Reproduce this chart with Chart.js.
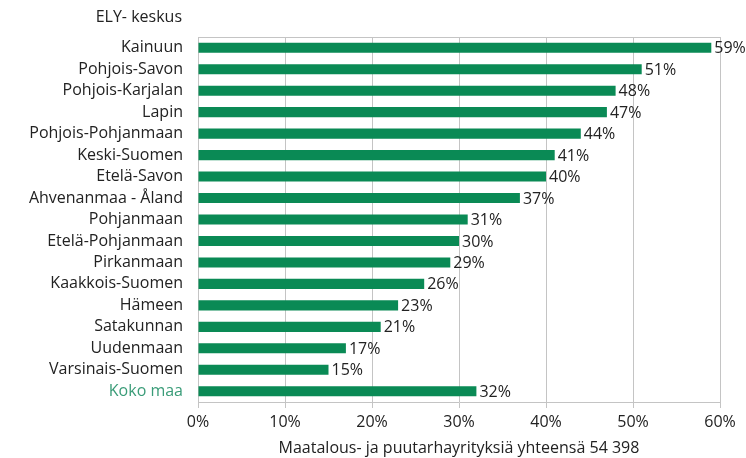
<!DOCTYPE html>
<html><head><meta charset="utf-8">
<script src="https://cdn.jsdelivr.net/npm/chart.js@4"></script>
<style>html,body{margin:0;padding:0;background:#fff}</style>
</head><body>
<canvas id="c" width="746" height="458" style="display:block;width:746px;height:458px"></canvas>
<script>
const categories = ['Kainuun','Pohjois-Savon','Pohjois-Karjalan','Lapin','Pohjois-Pohjanmaan','Keski-Suomen','Etelä-Savon','Ahvenanmaa - Åland','Pohjanmaan','Etelä-Pohjanmaan','Pirkanmaan','Kaakkois-Suomen','Hämeen','Satakunnan','Uudenmaan','Varsinais-Suomen','Koko maa'];
const values = [59,51,48,47,44,41,40,37,31,30,29,26,23,21,17,15,32];
const xTickValues = [0,10,20,30,40,50,60];
const axisTitle = 'Maatalous- ja puutarhayrityksiä yhteensä 54 398';
const headerTitle = 'ELY- keskus';

const FONT = '"Open Sans", "Noto Sans", sans-serif';
const FS = 16;
const TXT = '#222222';
const BAR = '#0a8a55';
const TOTAL_TXT = '#3a9c78';

const extras = {
  id: 'extras',
  beforeDatasetsDraw(chart) {
    const {ctx, chartArea} = chart;
    ctx.save();
    ctx.strokeStyle = '#c4c4c4';
    ctx.lineWidth = 1;
    ctx.beginPath();
    ctx.moveTo(chartArea.left, chartArea.top + 0.5);
    ctx.lineTo(chartArea.right, chartArea.top + 0.5);
    ctx.stroke();
    ctx.restore();
  },
  afterDatasetsDraw(chart) {
    const {ctx} = chart;
    const meta = chart.getDatasetMeta(0);
    ctx.save();
    ctx.font = FS + 'px ' + FONT;
    ctx.fillStyle = TXT;
    ctx.textAlign = 'left';
    ctx.textBaseline = 'middle';
    meta.data.forEach((bar, i) => {
      ctx.fillText(values[i] + '%', bar.x + 3, bar.y + 1);
    });
    ctx.textAlign = 'right';
    ctx.fillText(headerTitle, 182, 17);
    ctx.restore();
  }
};

new Chart(document.getElementById('c'), {
  type: 'bar',
  data: {
    labels: categories,
    datasets: [{
      data: values,
      backgroundColor: BAR,
      borderWidth: 0,
      categoryPercentage: 1,
      barPercentage: 0.47
    }]
  },
  options: {
    indexAxis: 'y',
    responsive: false,
    animation: false,
    layout: {padding: {left: 0, right: 26, top: 37, bottom: 0}},
    plugins: {legend: {display: false}, tooltip: {enabled: false}, title: {display: false}},
    scales: {
      x: {
        min: 0, max: 60,
        afterBuildTicks(scale) { scale.ticks = xTickValues.map(v => ({value: v})); },
        afterFit(scale) { scale.height = 56; },
        grid: {color: '#c4c4c4', lineWidth: 1, tickLength: 6, drawTicks: true},
        border: {display: true, color: '#c4c4c4'},
        ticks: {
          callback: v => v + '%',
          color: TXT,
          font: {family: FONT, size: FS},
          padding: 5,
          maxRotation: 0
        },
        title: {
          display: true,
          text: axisTitle,
          color: TXT,
          font: {family: FONT, size: FS},
          padding: {top: 0, bottom: 0}
        }
      },
      y: {
        afterFit(scale) { scale.width = 198; },
        grid: {display: false},
        border: {display: false},
        ticks: {
          color: ctx => ctx.index === categories.length - 1 ? TOTAL_TXT : TXT,
          font: {family: FONT, size: FS},
          padding: 7,
          autoSkip: false
        }
      }
    }
  },
  plugins: [extras]
});
</script>
</body></html>
